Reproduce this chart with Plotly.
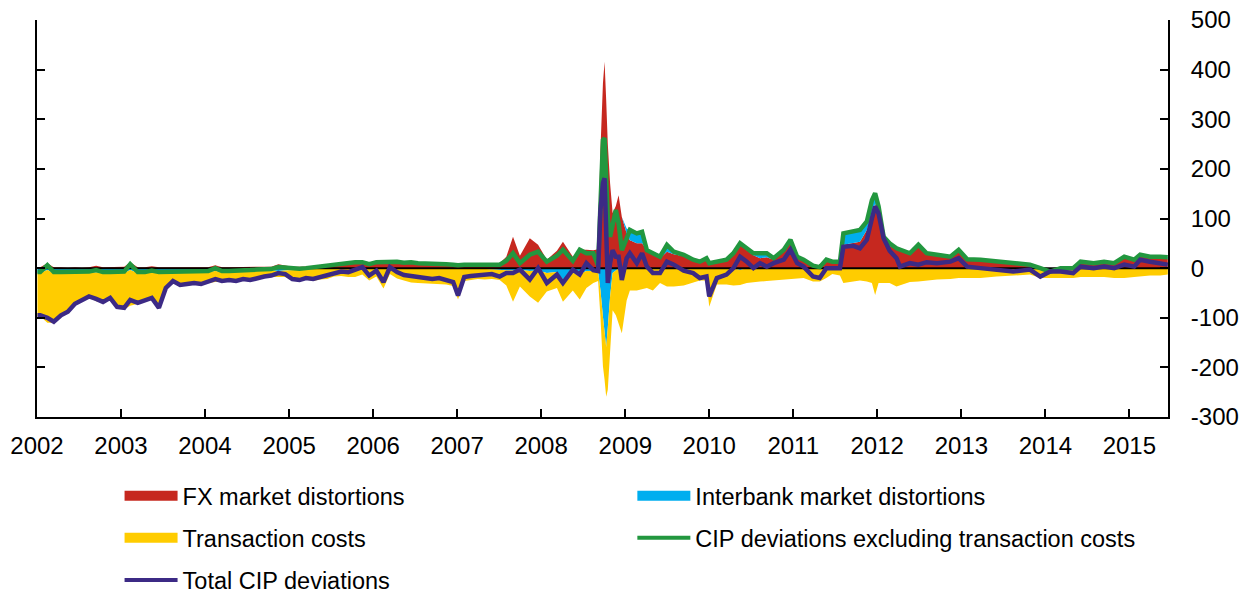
import plotly.graph_objects as go

# ---------------- data (basis points) ----------------
dates = [
    "2002-01-03", "2002-01-15", "2002-02-15", "2002-03-15", "2002-04-15", "2002-05-15", "2002-06-15",
    "2002-07-15", "2002-08-15", "2002-09-15", "2002-10-15", "2002-11-15", "2002-12-15",
    "2003-01-15", "2003-02-10", "2003-03-15", "2003-04-15", "2003-05-15", "2003-06-15",
    "2003-07-15", "2003-08-15", "2003-09-15", "2003-10-15", "2003-11-15", "2003-12-15",
    "2004-01-15", "2004-02-15", "2004-03-15", "2004-04-15", "2004-05-15", "2004-06-15",
    "2004-07-15", "2004-08-15", "2004-09-15", "2004-10-15", "2004-11-15", "2004-12-15",
    "2005-01-15", "2005-02-15", "2005-03-15", "2005-04-15", "2005-05-15", "2005-06-15",
    "2005-07-15", "2005-08-15", "2005-09-15", "2005-10-15", "2005-11-15", "2005-12-15",
    "2006-01-15", "2006-02-15", "2006-03-15", "2006-04-15", "2006-05-15", "2006-06-15",
    "2006-07-15", "2006-08-15", "2006-09-15", "2006-10-15", "2006-11-15", "2006-12-15",
    "2007-01-05", "2007-02-01", "2007-03-01", "2007-04-01", "2007-05-01", "2007-06-01",
    "2007-07-05", "2007-08-03", "2007-09-01", "2007-10-01", "2007-11-13", "2007-12-19",
    "2008-01-26", "2008-03-10", "2008-04-05", "2008-05-18", "2008-06-17", "2008-07-16",
    "2008-08-15", "2008-09-05", "2008-09-15", "2008-09-26", "2008-10-03", "2008-10-10",
    "2008-10-17", "2008-10-27", "2008-11-07", "2008-11-21", "2008-12-03", "2008-12-17",
    "2009-01-07", "2009-01-21", "2009-02-20", "2009-03-15", "2009-04-05", "2009-05-01",
    "2009-06-01", "2009-07-01", "2009-07-31", "2009-09-12", "2009-10-23", "2009-11-21",
    "2009-12-20", "2010-01-01", "2010-02-03", "2010-03-17", "2010-04-16", "2010-05-15",
    "2010-06-13", "2010-07-12", "2010-08-10", "2010-09-08", "2010-10-08", "2010-11-21",
    "2010-12-20", "2011-01-18", "2011-02-15", "2011-03-28", "2011-04-26", "2011-05-25",
    "2011-06-20", "2011-07-23", "2011-08-07", "2011-09-19", "2011-10-18", "2011-11-17",
    "2011-12-09", "2011-12-23", "2012-01-07", "2012-01-29", "2012-02-24", "2012-03-25",
    "2012-04-09", "2012-05-22", "2012-06-28", "2012-08-03", "2012-09-17", "2012-11-14",
    "2012-12-20", "2013-01-26", "2013-03-25", "2013-06-03", "2013-08-14", "2013-10-26",
    "2013-12-10", "2014-01-22", "2014-03-08", "2014-05-02", "2014-06-03", "2014-07-30",
    "2014-09-13", "2014-10-27", "2014-12-10", "2015-01-22", "2015-02-17", "2015-04-01",
    "2015-05-15", "2015-06-17",
]

fx_distortions = [
    2, 2, 10, 2, 2, 1, 2, 1, 2, 5, 2, 2, 2,
    3, 12, 2, 2, 4, 2, 2, 2, 2, 2, 2, 2,
    2, 6, 2, 2, 2, 2, 2, 2, 2, 3, 8, 6,
    3, 3, 3, 4, 5, 6, 7, 9, 10, 14, 15, 10,
    12, 12, 12, 11, 10, 13, 12, 11, 10, 12, 9, 8,
    8, 8, 8, 8, 9, 10, 10, 23, 63, 25, 60, 47,
    17, 35, 53, 23, 37, 37, 36, 38, 238, 373, 416, 339,
    250, 171, 111, 125, 147, 103, 70, 56, 50, 50, 36, 30,
    20, 33, 28, 24, 15, 12, 18, 9, 12, 15, 27, 54,
    36, 26, 20, 22, 17, 33, 52, 20, 15, 4, 2, 15,
    12, 12, 47, 50, 53, 77, 104, 130, 110, 55, 45, 38,
    35, 27, 45, 28, 25, 22, 33, 15, 15, 12, 9, 6,
    2, -3, 2, 2, 12, 9, 12, 9, 21, 15, 24, 20,
    20, 19,
]

interbank_distortions = [
    -10, -10, -4, -10, -10, -9, -10, -9, -9, -9, -10, -10, -10,
    -10, -4, -10, -10, -9, -10, -10, -9, -9, -9, -9, -9,
    -8, -6, -8, -8, -8, -7, -6, -5, -5, -5, -6, -5,
    -4, -4, -3, -2, -2, -2, -1, -1, 0, -2, -3, -2,
    0, 1, 2, 2, 1, -1, -2, -1, 0, -2, -1, -1,
    -2, -1, 0, -1, -2, -3, -3, -4, -5, -4, -6, -5,
    -10, -8, -23, -10, -12, -6, -6, -8, -44, -98, -130, -159,
    -120, -57, -10, -5, 0, 0, 10, 21, 20, 23, 5, 2,
    3, 14, 5, 3, 2, 1, 2, 1, 1, 2, 3, -4,
    4, 4, 10, 8, 3, 4, 5, 3, 2, 1, 0, 2,
    1, 1, 23, 23, 24, 17, 33, 21, 14, 8, 5, 2,
    2, 3, 2, 2, 2, 1, 4, 3, 2, 1, 1, 1,
    -2, -4, -2, -2, 1, 1, 1, 1, 2, 2, 3, 3,
    3, 3,
]

transaction_costs = [
    -87, -87, -106, -100, -87, -80, -64, -57, -50, -58, -60, -52, -70,
    -73, -72, -62, -58, -55, -72, -32, -19, -27, -25, -23, -25,
    -22, -22, -20, -18, -20, -17, -20, -17, -14, -13, -12, -13,
    -21, -23, -20, -24, -21, -20, -16, -15, -18, -16, -10, -23,
    -17, -41, -12, -21, -25, -28, -28, -30, -32, -30, -32, -35,
    -61, -25, -24, -21, -21, -19, -21, -31, -63, -33, -51, -65,
    -37, -32, -45, -35, -51, -34, -24, -18, -54, -100, -95, -100,
    -125, -108, -75, -90, -111, -131, -65, -45, -45, -42, -40, -45,
    -30, -37, -37, -35, -30, -25, -25, -78, -33, -33, -35, -30,
    -30, -28, -27, -26, -25, -23, -23, -22, -20, -27, -27, -20,
    -12, -15, -30, -27, -25, -27, -30, -54, -30, -30, -30, -37,
    -35, -28, -27, -25, -23, -22, -20, -20, -20, -17, -15, -13,
    -18, -13, -18, -18, -18, -18, -18, -20, -20, -18, -17, -15,
    -15, -13,
]

cip_excl_transaction_costs = [
    -8, -8, 6, -8, -8, -8, -8, -8, -7, -4, -8, -8, -8,
    -7, 8, -8, -8, -5, -8, -8, -7, -7, -7, -7, -7,
    -6, 0, -6, -6, -6, -5, -4, -3, -3, -2, 2, 1,
    -1, -1, 0, 2, 3, 4, 6, 8, 10, 12, 12, 8,
    12, 13, 14, 13, 11, 12, 10, 10, 10, 10, 8, 7,
    6, 7, 8, 7, 7, 7, 7, 15, 30, 10, 27, 33,
    13, 25, 37, 15, 37, 30, 30, 5, 137, 258, 262, 184,
    100, 63, 83, 117, 90, 36, 60, 77, 70, 73, 36, 30,
    23, 47, 33, 27, 17, 13, 20, 10, 13, 17, 30, 50,
    40, 30, 30, 30, 20, 37, 57, 23, 17, 5, 2, 17,
    13, 13, 70, 73, 77, 94, 137, 151, 124, 63, 50, 40,
    37, 30, 47, 30, 27, 23, 37, 18, 17, 13, 10, 7,
    0, -7, 0, 0, 13, 10, 13, 10, 23, 17, 27, 23,
    23, 22,
]

total_cip_deviations = [
    -95, -95, -100, -108, -95, -88, -72, -65, -57, -62, -68, -60, -78,
    -80, -64, -70, -66, -60, -80, -40, -26, -34, -32, -30, -32,
    -28, -22, -26, -24, -26, -22, -24, -20, -17, -15, -10, -12,
    -22, -24, -20, -22, -18, -16, -10, -7, -8, -4, 2, -15,
    -5, -28, 2, -8, -14, -16, -18, -20, -22, -20, -24, -28,
    -55, -18, -16, -14, -14, -12, -17, -10, -10, -3, -23, 0,
    -30, -13, -30, -3, -13, 10, -4, -6, 117, 171, 181, 36,
    -30, 10, 36, 23, 23, -24, 20, 30, 10, 30, 3, -10,
    -10, 13, 7, -5, -10, -20, -17, -57, -20, -13, 0, 23,
    13, 0, 10, 3, 10, 17, 37, 10, 3, -17, -20, 0,
    0, 0, 43, 45, 40, 57, 100, 124, 110, 60, 35, 20,
    3, 10, 7, 12, 10, 13, 20, 3, 0, -3, -7, -3,
    -17, -7, -7, -10, 3, 0, 3, 0, 7, 3, 17, 13,
    10, 7,
]

series_names = [
    "FX market distortions",
    "Interbank market distortions",
    "Transaction costs",
    "CIP deviations excluding transaction costs",
    "Total CIP deviations",
]
year_ticks = [str(y) for y in range(2002, 2016)]
y_ticks = [-300, -200, -100, 0, 100, 200, 300, 400, 500]

# ---------------- styling ----------------
RED = "#C6281F"
BLUE = "#00AEEF"
YELLOW = "#FFCC00"
GREEN = "#22973F"
PURPLE = "#3C2A85"
FONT = "Liberation Sans, Arial, sans-serif"

fig = go.Figure()

# Stacked areas: positive parts stack upward, negative parts stack downward
components = [(fx_distortions, RED), (interbank_distortions, BLUE), (transaction_costs, YELLOW)]
for sign, grp in ((1, "pos"), (-1, "neg")):
    for vals, col in components:
        part = [max(v, 0) if sign > 0 else min(v, 0) for v in vals]
        fig.add_trace(go.Scatter(
            x=dates, y=part, mode="lines", stackgroup=grp,
            line=dict(width=0, color=col), fillcolor=col,
            showlegend=False, hoverinfo="skip",
        ))

# zero baseline drawn above the areas, below the lines
fig.add_trace(go.Scatter(
    x=[dates[0], dates[-1]], y=[0, 0], mode="lines",
    line=dict(color="black", width=2), showlegend=False, hoverinfo="skip",
))

fig.add_trace(go.Scatter(
    x=dates, y=cip_excl_transaction_costs, mode="lines",
    line=dict(color=GREEN, width=4.5), showlegend=False,
))
fig.add_trace(go.Scatter(
    x=dates, y=total_cip_deviations, mode="lines",
    line=dict(color=PURPLE, width=4.5), showlegend=False,
))

# legend entries
legend_spec = [
    (series_names[0], RED, 14, "legend"),
    (series_names[2], YELLOW, 14, "legend"),
    (series_names[4], PURPLE, 4, "legend"),
    (series_names[1], BLUE, 14, "legend2"),
    (series_names[3], GREEN, 4, "legend2"),
]
for i, (name, col, w, lg) in enumerate(legend_spec):
    fig.add_trace(go.Scatter(
        x=[None], y=[None], mode="lines", name=name,
        line=dict(color=col, width=w), legend=lg, legendgroup=f"g{i}",
    ))

legend_common = dict(
    orientation="v", traceorder="grouped", tracegroupgap=8.5,
    font=dict(family=FONT, size=23.5, color="black"),
    itemwidth=53, bgcolor="rgba(0,0,0,0)", borderwidth=0,
    xanchor="left", yanchor="top",
)

fig.update_layout(
    width=1243, height=593,
    margin=dict(l=37, r=75, t=20, b=176, autoexpand=False),
    paper_bgcolor="white", plot_bgcolor="white",
    font=dict(family=FONT, size=24, color="black"),
    showlegend=True,
    legend=dict(x=0.073, y=-0.1436, **legend_common),
    legend2=dict(x=0.5264, y=-0.1436, **legend_common),
    xaxis=dict(
        type="date", range=["2002-01-01", "2015-06-18"],
        tickmode="array",
        tickvals=[f"{y}-01-01" for y in year_ticks],
        ticktext=year_ticks,
        ticks="inside", ticklen=8, tickwidth=2, tickcolor="black",
        showline=True, linecolor="black", linewidth=2,
        showgrid=False, zeroline=False,
        tickfont=dict(family=FONT, size=24, color="black"),
        ticklabelstandoff=6, ticklabeloverflow="allow",
    ),
    yaxis=dict(
        range=[-300, 500], side="right",
        tickmode="array", tickvals=y_ticks, ticktext=[str(v) for v in y_ticks],
        ticks="inside", ticklen=8, tickwidth=2, tickcolor="black",
        showline=True, linecolor="black", linewidth=2, mirror="ticks",
        showgrid=False, zeroline=False,
        tickfont=dict(family=FONT, size=24, color="black"),
        ticklabelstandoff=16, ticklabeloverflow="allow",
    ),
)

# remove the browser's default 8px page margin so the figure fills the window exactly
fig.write_html(
    "out.html",
    config={"displayModeBar": False},
    post_script="document.body.style.margin='0';",
)
